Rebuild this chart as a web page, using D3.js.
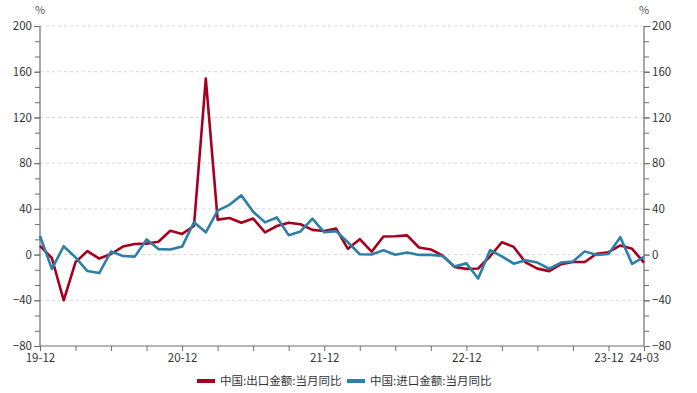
<!DOCTYPE html>
<html><head><meta charset="utf-8">
<script src="https://cdn.jsdelivr.net/npm/d3@7"></script>
<style>
html,body{margin:0;padding:0;background:#fff;}
svg{display:block;font-family:"Noto Sans CJK SC","Noto Sans",sans-serif;}
</style></head>
<body><svg id="c" width="697" height="393"></svg>
<script>
const months = ["19-12","20-01","20-02","20-03","20-04","20-05","20-06","20-07","20-08","20-09","20-10","20-11",
"20-12","21-01","21-02","21-03","21-04","21-05","21-06","21-07","21-08","21-09","21-10","21-11",
"21-12","22-01","22-02","22-03","22-04","22-05","22-06","22-07","22-08","22-09","22-10","22-11",
"22-12","23-01","23-02","23-03","23-04","23-05","23-06","23-07","23-08","23-09","23-10","23-11",
"23-12","24-01","24-02","24-03"];
const exportYoY = [7.6,-3,-40,-6.6,3,-3.5,0.5,7,9.3,9.6,11.2,20.8,
18.1,25,154,30.6,32,27.8,31.5,19.4,25,27.8,26.5,21.6,
20.6,22.7,5,13.5,2.5,15.8,16,16.8,6.2,4.5,-1,-10.8,
-12.5,-12.2,-1.5,10.8,6.7,-6.9,-12.3,-14.5,-8.4,-6.5,-6.5,0.7,
2.1,8,5,-7];
const importYoY = [16.3,-12.5,7.3,-2.5,-14.4,-16.2,2.7,-1.2,-1.8,13.2,4.8,4.5,
7,28.3,19.5,38.5,43.5,51.8,37.5,28.2,32.5,17,20.2,31.4,
19.5,20.5,10.8,0.3,0,3.8,-0.2,1.8,-0.3,-0.3,-1.2,-10.4,
-7.7,-21,3.8,-1.5,-8,-5,-7,-12.4,-7,-6,2.8,-0.3,
0.5,15.2,-8.2,-2];
const seriesNames = ["中国:出口金额:当月同比","中国:进口金额:当月同比"];
const seriesColors = ["#a5001e","#2b7fa8"];
const yTicks = [-80,-40,0,40,80,120,160,200];
const xLabels = ["19-12","20-12","21-12","22-12","23-12","24-03"];

const svg = d3.select("#c");
const L = 40, R = 644, T = 26, B = 346;
const x = d3.scaleLinear().domain([0, months.length-1]).range([L, R]);
const y = d3.scaleLinear().domain([-80, 200]).range([B, T]);
const axisColor = "#6e6e6e", textColor = "#333";

// grid
svg.append("g").selectAll("line").data(yTicks.filter(v => v > -80)).join("line")
  .attr("x1", L).attr("x2", R).attr("y1", d => y(d)).attr("y2", d => y(d))
  .attr("stroke", "#d9d9d9").attr("stroke-width", 1).attr("stroke-dasharray", "3,3");

// minor ticks values
const minor = d3.range(-80, 200.01, 40/3);

function yAxis(g, orient) {
  const axis = (orient === "left" ? d3.axisLeft(y) : d3.axisRight(y))
    .tickValues(minor).tickSize(5).tickFormat("");
  g.call(axis);
  const ax2 = (orient === "left" ? d3.axisLeft(y) : d3.axisRight(y))
    .tickValues(yTicks).tickSize(6).tickPadding(2).tickFormat(d3.format("d"));
  g.append("g").call(ax2);
  g.selectAll("path").attr("stroke", axisColor);
  g.selectAll("line").attr("stroke", axisColor);
  g.selectAll("text").attr("fill", textColor).style("font-size", "11.5px")
    .style("font-family", '"Noto Sans CJK SC","Noto Sans",sans-serif');
  g.selectAll(".domain").remove();
  g.append("line").attr("x1",0).attr("x2",0).attr("y1",T).attr("y2",B)
    .attr("stroke", axisColor).attr("stroke-width", 1.2);
}
svg.append("g").attr("transform", `translate(${L},0)`).call(g => yAxis(g, "left"));
svg.append("g").attr("transform", `translate(${R},0)`).call(g => yAxis(g, "right"));

// x axis
const xg = svg.append("g").attr("transform", `translate(0,${B})`);
const qTicks = d3.range(0, months.length, 3);
xg.call(d3.axisBottom(x).tickValues(qTicks).tickSize(5)
  .tickFormat(i => xLabels.includes(months[i]) ? months[i] : ""));
xg.selectAll(".domain").remove();
xg.append("line").attr("x1", L).attr("x2", R).attr("stroke", axisColor).attr("stroke-width", 1.2);
xg.selectAll("line").attr("stroke", axisColor);
xg.selectAll("text").attr("fill", textColor).style("font-size", "11.5px")
  .style("font-family", '"Noto Sans CJK SC","Noto Sans",sans-serif');

// units
svg.append("text").attr("x", 40).attr("y", 14).attr("text-anchor", "middle")
  .attr("fill", "#555").style("font-size", "11px").text("%");
svg.append("text").attr("x", 644).attr("y", 14).attr("text-anchor", "middle")
  .attr("fill", "#555").style("font-size", "11px").text("%");

// lines
const line = d3.line().x((d, i) => x(i)).y(d => y(d));
[exportYoY, importYoY].forEach((s, k) => {
  svg.append("path").datum(s).attr("d", line).attr("fill", "none")
    .attr("stroke", seriesColors[k]).attr("stroke-width", 2.6)
    .attr("stroke-linejoin", "round");
});
// redraw export beneath? reference shows blue on top
// legend
const lg = svg.append("g");
const legX = [197, 347];
seriesNames.forEach((n, k) => {
  lg.append("line").attr("x1", legX[k]).attr("x2", legX[k] + 18)
    .attr("y1", 381).attr("y2", 381).attr("stroke", seriesColors[k]).attr("stroke-width", 4);
  lg.append("text").attr("x", legX[k] + 23).attr("y", 385).attr("fill", textColor)
    .style("font-size", "11.5px").text(n);
});
</script></body></html>
